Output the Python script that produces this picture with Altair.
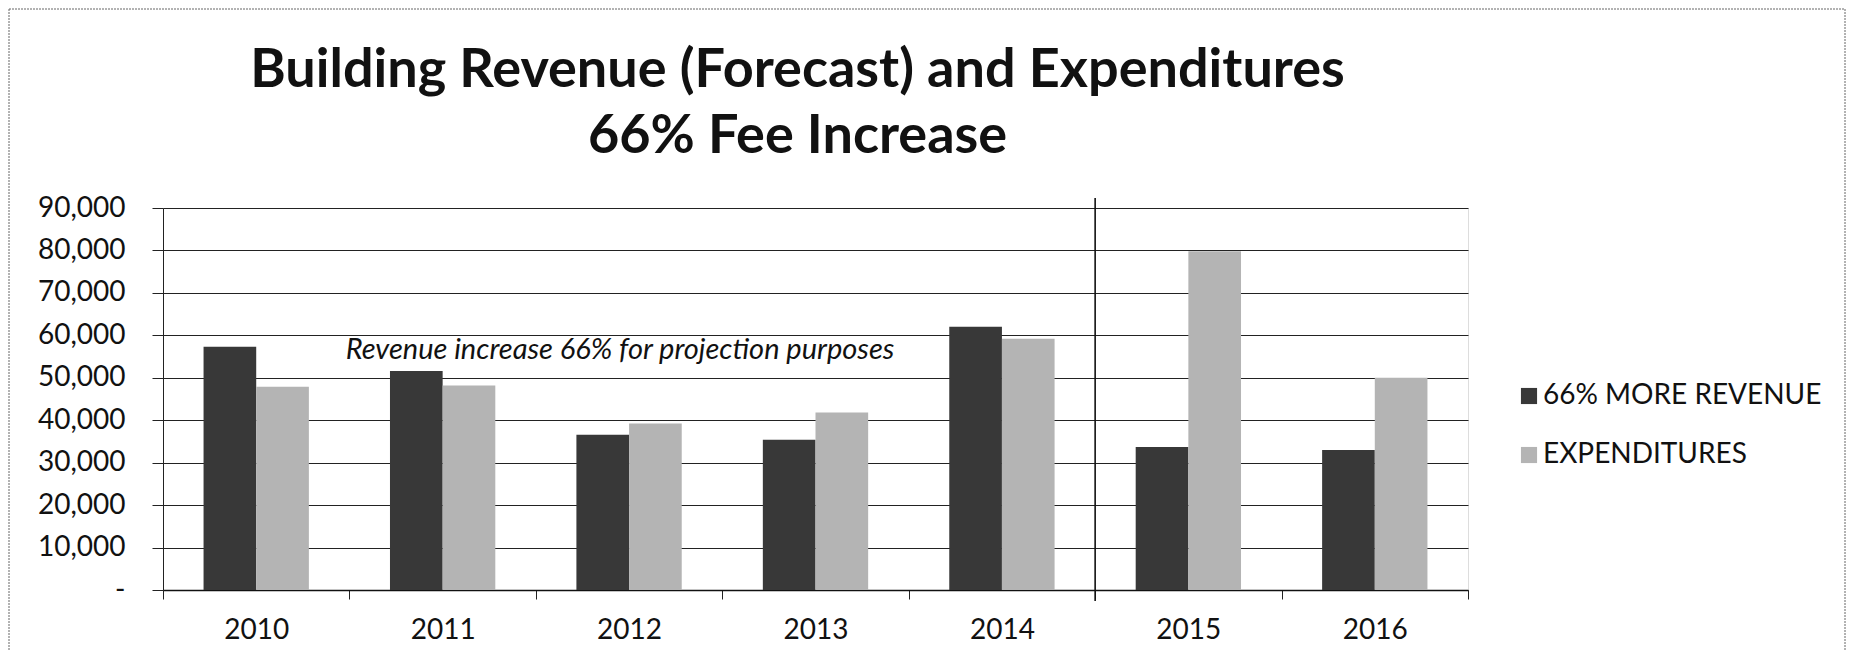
import altair as alt
import pandas as pd

years = ["2010", "2011", "2012", "2013", "2014", "2015", "2016"]
revenue = [57300, 51600, 36600, 35400, 62000, 33700, 33000]
expenditures = [47900, 48200, 39200, 41800, 59200, 79800, 50000]
series_names = ["66% MORE REVENUE", "EXPENDITURES"]
series_colors = ["#383838", "#b4b4b4"]
y_ticks = [0, 10000, 20000, 30000, 40000, 50000, 60000, 70000, 80000, 90000]
title_lines = ["Building Revenue (Forecast) and Expenditures", "66% Fee Increase"]
note_text = "Revenue increase 66% for projection purposes"
note_year = "2012"
note_value = 56600
split_year = "2015"

rows = []
for i, yr in enumerate(years):
    rows.append({"year": yr, "series": series_names[0], "value": revenue[i], "order": 0})
    rows.append({"year": yr, "series": series_names[1], "value": expenditures[i], "order": 1})
df = pd.DataFrame(rows)

W, H = 1305, 382
FONT = "Lato"

x_scale = alt.Scale(domain=years, paddingInner=0, paddingOuter=0)
y_scale = alt.Scale(domain=[0, 90000], nice=False)

bars = alt.Chart(df).mark_bar().encode(
    x=alt.X("year:N", scale=x_scale, title=None,
            axis=alt.Axis(labelAngle=0, tickBand="extent", tickSize=9, tickColor="#222",
                          domainColor="#111", domainWidth=1.5, labelFont=FONT,
                          labelFontSize=28, labelColor="#111", labelPadding=17,
                          grid=False)),
    xOffset=alt.XOffset("series:N", sort=series_names,
                        scale=alt.Scale(paddingOuter=0.77, paddingInner=0)),
    y=alt.Y("value:Q", scale=y_scale, title=None,
            axis=alt.Axis(values=y_ticks, labelExpr="datum.value == 0 ? '-\u00a0\u00a0' : format(datum.value, ',')",
                          tickSize=11, tickColor="#222", domainColor="#222", domainWidth=1,
                          gridColor="#222", gridWidth=1.2, labelFont=FONT,
                          labelFontSize=28, labelColor="#111", labelPadding=27)),
    color=alt.Color("series:N", sort=series_names,
                    scale=alt.Scale(domain=series_names, range=series_colors),
                    legend=alt.Legend(title=None, orient="none", legendX=1352, legendY=174,
                                      symbolType="square", symbolSize=260, symbolStrokeWidth=0,
                                      labelFont=FONT, labelFontSize=28, labelColor="#111",
                                      labelLimit=500,
                                      rowPadding=31, labelOffset=0)),
)

note = alt.Chart(pd.DataFrame({"year": [note_year], "value": [note_value], "t": [note_text]})).mark_text(
    font=FONT, fontSize=29, fontStyle="italic", color="#111", dx=-9, baseline="middle"
).encode(x=alt.X("year:N"), y=alt.Y("value:Q"), text="t:N")

split = alt.Chart(pd.DataFrame({"year": [split_year]})).mark_rule(color="#111", strokeWidth=1.6).encode(
    x=alt.X("year:N", bandPosition=0), y=alt.value(-10), y2=alt.value(393)
)

frame_df = pd.DataFrame({"k": [0]})
frame_left = alt.Chart(frame_df).mark_rule(color="#666", strokeWidth=1, strokeDash=[2, 1]).encode(
    x=alt.value(-154), y=alt.value(-199), y2=alt.value(460))
frame_right = alt.Chart(frame_df).mark_rule(color="#666", strokeWidth=1, strokeDash=[2, 1]).encode(
    x=alt.value(1682), y=alt.value(-199), y2=alt.value(460))
frame_top = alt.Chart(frame_df).mark_rule(color="#666", strokeWidth=1, strokeDash=[2, 1]).encode(
    x=alt.value(-154), x2=alt.value(1682), y=alt.value(-199))

chart = alt.layer(bars, note, split, frame_left, frame_right, frame_top).properties(
    width=W, height=H,
    title=alt.TitleParams(text=title_lines, font=FONT, fontSize=54, fontWeight="bold",
                          color="#111", anchor="middle", dx=-18, offset=-155, lineHeight=66),
    autosize=alt.AutoSizeParams(type="none"),
    padding={"left": 155, "top": 200, "right": 378, "bottom": 60},
).configure_view(stroke=None).configure(background="white")

chart.save("out.html", embed_options={"renderer": "svg", "actions": False})
